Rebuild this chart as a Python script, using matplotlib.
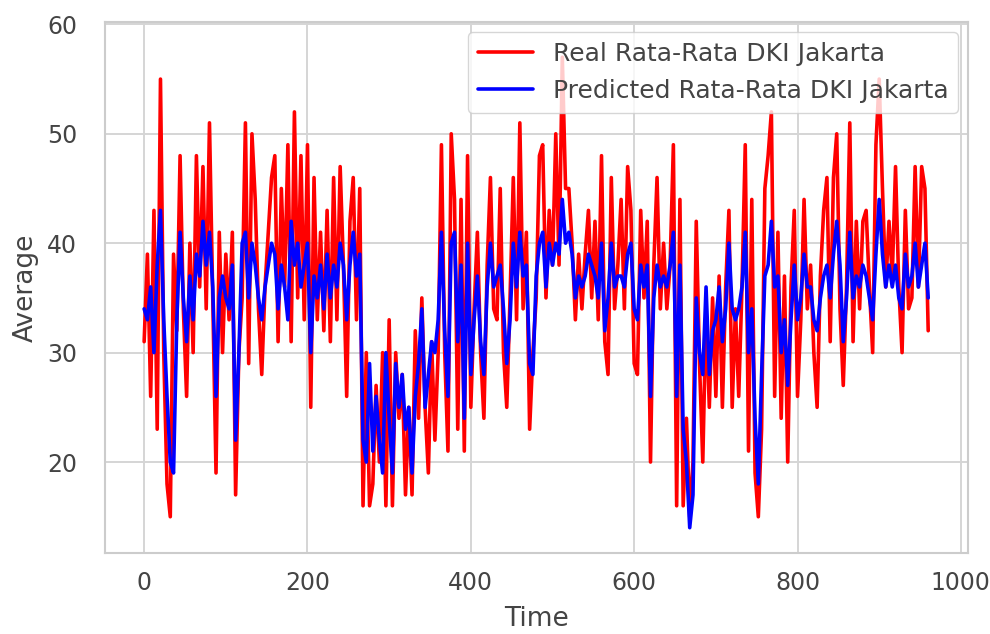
import numpy as np
import matplotlib
matplotlib.use("Agg")
import matplotlib.pyplot as plt
import seaborn as sns

# values, one every 4 time steps (0 .. 960)
real = [31, 39, 26, 43, 23, 55, 30, 18, 15, 39,
        32, 48, 34, 26, 40, 30, 48, 36, 47, 34,
        51, 35, 19, 41, 30, 39, 33, 41, 17, 30,
        35, 51, 29, 50, 44, 34, 28, 36, 41, 46,
        48, 31, 45, 36, 49, 31, 52, 35, 48, 33,
        49, 25, 46, 33, 41, 32, 43, 31, 46, 33,
        47, 38, 26, 42, 46, 33, 45, 16, 30, 16,
        18, 27, 20, 30, 16, 33, 16, 30, 24, 28,
        17, 25, 17, 32, 24, 35, 25, 19, 31, 22,
        30, 49, 30, 21, 50, 44, 23, 44, 21, 48,
        25, 34, 41, 30, 24, 38, 46, 34, 33, 45,
        30, 25, 35, 46, 33, 51, 34, 41, 23, 30,
        35, 48, 49, 35, 43, 38, 50, 38, 57, 45,
        45, 40, 33, 39, 34, 39, 43, 35, 42, 33,
        48, 31, 28, 46, 34, 38, 44, 34, 47, 43,
        29, 28, 43, 35, 42, 20, 38, 46, 34, 40,
        34, 38, 49, 16, 44, 16, 24, 15, 20, 42,
        29, 20, 34, 25, 35, 26, 37, 25, 36, 43,
        25, 34, 26, 36, 49, 21, 44, 19, 15, 23,
        45, 48, 52, 26, 41, 24, 37, 20, 36, 43,
        26, 33, 44, 34, 38, 30, 25, 37, 43, 46,
        31, 46, 50, 34, 27, 36, 51, 31, 42, 34,
        42, 43, 36, 30, 49, 55, 45, 36, 42, 37,
        47, 36, 30, 43, 34, 35, 47, 36, 47, 45,
        32]

predicted = [34, 33, 36, 30, 38, 43, 33, 26, 20, 19,
             33, 41, 35, 31, 37, 33, 39, 37, 42, 38,
             41, 36, 26, 35, 37, 35, 34, 38, 22, 30,
             40, 41, 35, 40, 38, 35, 33, 36, 38, 40,
             39, 34, 38, 36, 33, 42, 38, 40, 36, 38,
             40, 30, 37, 35, 38, 34, 39, 35, 38, 36,
             40, 38, 33, 38, 41, 37, 39, 22, 20, 29,
             21, 26, 22, 19, 30, 24, 19, 29, 25, 28,
             23, 25, 19, 26, 29, 34, 25, 28, 31, 30,
             33, 41, 32, 26, 40, 41, 31, 38, 24, 40,
             28, 33, 37, 31, 28, 36, 40, 36, 37, 38,
             34, 29, 33, 40, 36, 41, 37, 38, 29, 28,
             37, 40, 41, 36, 40, 38, 40, 39, 44, 40,
             41, 39, 35, 37, 36, 37, 39, 38, 37, 35,
             40, 32, 35, 40, 36, 37, 37, 36, 39, 40,
             34, 33, 38, 36, 38, 26, 35, 38, 36, 37,
             36, 38, 41, 26, 38, 23, 20, 14, 17, 35,
             30, 28, 36, 28, 32, 33, 36, 31, 34, 40,
             34, 33, 34, 36, 41, 30, 34, 24, 18, 28,
             37, 38, 42, 36, 37, 30, 33, 27, 33, 38,
             33, 35, 39, 36, 36, 33, 32, 35, 37, 38,
             35, 39, 42, 38, 31, 35, 41, 35, 37, 36,
             38, 37, 35, 33, 39, 44, 39, 36, 38, 36,
             38, 35, 34, 39, 36, 37, 40, 36, 38, 40,
             35]

time = np.arange(len(real)) * 4

sns.set_theme(style="whitegrid")
plt.rcParams['font.family'] = ['DejaVu Sans']

fig = plt.figure(figsize=(9.9, 6.34), dpi=100)
ax = fig.add_axes([0.106, 0.128, 0.872, 0.837])

ax.plot(time, real, color='red', linewidth=2.6, label='Real Rata-Rata DKI Jakarta')
ax.plot(time, predicted, color='blue', linewidth=2.6, label='Predicted Rata-Rata DKI Jakarta')

ax.set_xlim(-48, 1009)
ax.set_ylim(11.7, 60.2)
ax.set_xticks([0, 200, 400, 600, 800, 1000])
ax.set_yticks([20, 30, 40, 50, 60])
ax.tick_params(axis='x', labelsize=17, colors='#444444', pad=7)
ax.tick_params(axis='y', labelsize=17, colors='#444444', pad=14)
ax.set_xlabel('Time', fontsize=19, color='#444444', labelpad=8)
ax.set_ylabel('Average', fontsize=19, color='#444444', labelpad=6)
for s in ax.spines.values():
    s.set_color('#cccccc')
    s.set_linewidth(1.5)
ax.grid(color='#d5d5d5', linewidth=1.4)

leg = ax.legend(loc='upper right', fontsize=18, frameon=True,
                borderaxespad=0.4, handlelength=2.2)
for t in leg.get_texts():
    t.set_color('#444444')

fig.savefig('out.png', dpi=100)
